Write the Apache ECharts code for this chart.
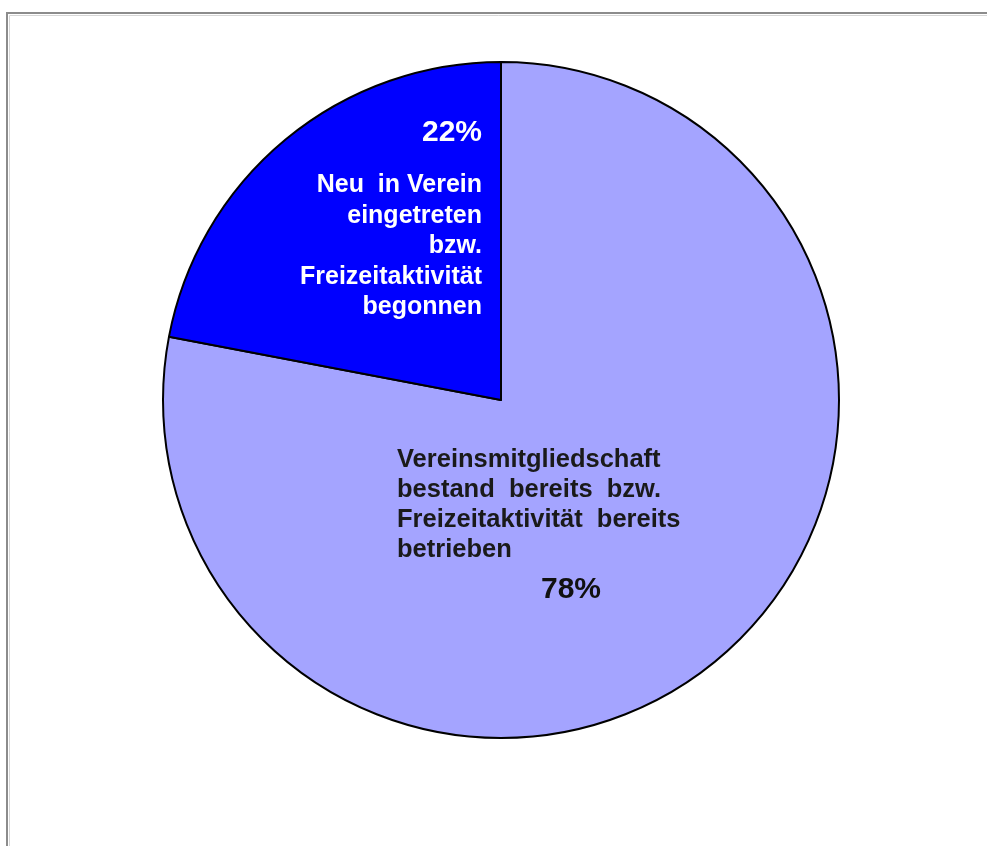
<!DOCTYPE html>
<html>
<head>
<meta charset="utf-8">
<script src="https://cdn.jsdelivr.net/npm/echarts@6/dist/echarts.min.js"></script>
<style>
  html, body { margin: 0; padding: 0; background: #fff; }
  #chart { width: 987px; height: 846px; }
</style>
</head>
<body>
<div id="chart"></div>
<script>
// Shares of participants (percent)
const categories = ['Bestehend', 'Neu'];
const shares = [78, 22];
const percentLabels = ['78%', '22%'];
const descriptionLines = [
  ['Vereinsmitgliedschaft', 'bestand  bereits  bzw.', 'Freizeitaktivität  bereits', 'betrieben'],
  ['Neu  in Verein', 'eingetreten', 'bzw.', 'Freizeitaktivität', 'begonnen']
];
const sliceColors = ['#a4a4ff', '#0000ff'];

const FONT = '"Liberation Sans", Arial, sans-serif';

const chart = echarts.init(document.getElementById('chart'), null, { renderer: 'canvas' });

function labelText(i) {
  if (i === 0) {
    return descriptionLines[0].map(s => '{t|' + s + '}').join('\n') + '\n{v|' + percentLabels[0] + '}';
  }
  return '{p|' + percentLabels[1] + '}\n' + descriptionLines[1].map(s => '{t|' + s + '}').join('\n');
}

const option = {
  animation: false,
  backgroundColor: '#ffffff',
  graphic: [
    { type: 'rect', silent: true, shape: { x: 7, y: 13, width: 1100, height: 1000 },
      style: { fill: 'none', stroke: '#8c8c8c', lineWidth: 2 } },
    { type: 'rect', silent: true, shape: { x: 9.5, y: 15.5, width: 1100, height: 1000 },
      style: { fill: 'none', stroke: '#d6d6d6', lineWidth: 1 } }
  ],
  series: [{
    type: 'pie',
    silent: true,
    center: [501, 400],
    radius: 338,
    startAngle: 90,
    clockwise: true,
    itemStyle: { borderColor: '#000', borderWidth: 2 },
    emphasis: { disabled: true },
    labelLine: { show: false },
    data: categories.map((name, i) => ({
      name,
      value: shares[i],
      itemStyle: { color: sliceColors[i] },
      label: i === 0 ? {
        show: true,
        position: 'inside',
        formatter: labelText(0),
        rich: {
          t: { fontFamily: FONT, fontWeight: 'bold', fontSize: 25.5, lineHeight: 30, color: '#1a1a1a' },
          v: { fontFamily: FONT, fontWeight: 'bold', fontSize: 30, lineHeight: 50, color: '#111', padding: [0, 0, 0, 144] }
        }
      } : {
        show: true,
        position: 'inside',
        formatter: labelText(1),
        align: 'right',
        rich: {
          p: { fontFamily: FONT, fontWeight: 'bold', fontSize: 30, lineHeight: 74, color: '#fff', align: 'right' },
          t: { fontFamily: FONT, fontWeight: 'bold', fontSize: 25, lineHeight: 30.5, color: '#fff', align: 'right' }
        }
      }
    })),
    labelLayout: function (params) {
      if (params.dataIndex === 0) {
        return { x: 397, y: 445, align: 'left', verticalAlign: 'top' };
      }
      return { x: 482, y: 96, align: 'right', verticalAlign: 'top' };
    }
  }]
};

chart.setOption(option);
</script>
</body>
</html>
